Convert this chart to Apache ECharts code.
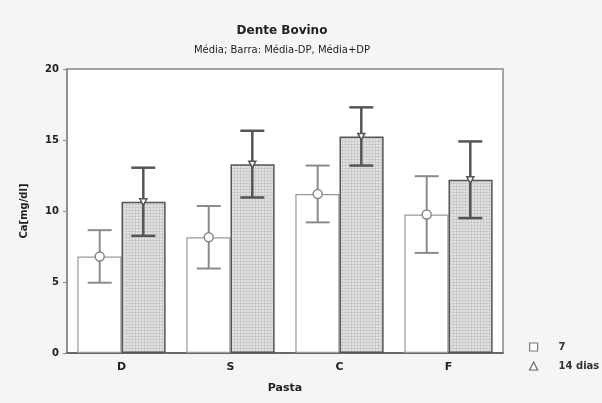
<!DOCTYPE html>
<html><head><meta charset="utf-8">
<script src="https://cdn.jsdelivr.net/npm/echarts@6/dist/echarts.min.js"></script>
<style>html,body{margin:0;padding:0;background:#f5f5f5}#c{width:602px;height:403px}</style>
</head><body><div id="c"></div>
<script>
const categories = ['D', 'S', 'C', 'F'];
const mean7 = [6.8, 8.15, 11.2, 9.75];
const sd7 = [1.85, 2.2, 2.0, 2.7];
const mean14 = [10.65, 13.3, 15.25, 12.2];
const sd14 = [2.4, 2.35, 2.05, 2.7];
const yTicks = [0, 5, 10, 15, 20];

function makePattern() {
  const c = document.createElement('canvas');
  c.width = 3; c.height = 3;
  const g = c.getContext('2d');
  g.fillStyle = '#e2e2e2'; g.fillRect(0, 0, 3, 3);
  g.fillStyle = '#cacaca'; g.fillRect(0, 0, 3, 1); g.fillRect(0, 0, 1, 3);
  return c;
}

function errRender(seriesIdx, color, width, marker) {
  return function (params, api) {
    const i = api.value(0);
    const m = api.value(1), s = api.value(2);
    const base = api.coord([i, m]);
    const bw = api.size([1, 0])[0];
    const off = (seriesIdx === 0 ? -1 : 1) * bw * 0.2;
    const x = base[0] + off;
    const top = api.coord([i, m + s])[1];
    const bot = api.coord([i, m - s])[1];
    const ym = base[1];
    const cap = 12;
    const st = { stroke: color, lineWidth: width };
    const children = [
      { type: 'line', shape: { x1: x, y1: top, x2: x, y2: bot }, style: st },
      { type: 'line', shape: { x1: x - cap, y1: top, x2: x + cap, y2: top }, style: st },
      { type: 'line', shape: { x1: x - cap, y1: bot, x2: x + cap, y2: bot }, style: st }
    ];
    if (marker === 'circle') {
      children.push({ type: 'circle', shape: { cx: x, cy: ym, r: 4.5 }, style: { fill: '#fff', stroke: '#888', lineWidth: 1.5 } });
    } else {
      children.push({ type: 'polygon', shape: { points: [[x - 3.5, ym - 3], [x + 3.5, ym - 3], [x, ym + 3.5]] }, style: { fill: '#fff', stroke: '#555', lineWidth: 1.5 } });
    }
    return { type: 'group', children: children };
  };
}

const chart = echarts.init(document.getElementById('c'));
const font = 'DejaVu Sans, sans-serif';
chart.setOption({
  backgroundColor: '#f5f5f5',
  animation: false,
  title: [
    { text: 'Dente Bovino', left: 277, top: 20, textAlign: 'center',
      textStyle: { fontSize: 12, fontWeight: 'bold', color: '#222', fontFamily: font } },
    { text: 'Média; Barra: Média-DP, Média+DP', left: 277, top: 40, textAlign: 'center',
      textStyle: { fontSize: 10, fontWeight: 'normal', color: '#222', fontFamily: font } }
  ],
  legend: {
    orient: 'vertical', left: 524, top: 337, itemGap: 9, itemWidth: 8, itemHeight: 8,
    textStyle: { fontSize: 10, fontWeight: 'bold', color: '#333', fontFamily: font, padding: [0, 0, 0, 16] },
    data: [
      { name: '7', icon: 'rect', itemStyle: { color: '#fff', borderColor: '#777', borderWidth: 1.2 } },
      { name: '14 dias', icon: 'triangle', itemStyle: { color: '#fff', borderColor: '#666', borderWidth: 1.2 } }
    ]
  },
  grid: { left: 67, right: 99, top: 69, bottom: 50, show: true, backgroundColor: '#fff', borderColor: '#888', borderWidth: 1.5 },
  xAxis: {
    type: 'category', data: categories,
    name: 'Pasta', nameLocation: 'middle', nameGap: 30,
    nameTextStyle: { fontSize: 11, fontWeight: 'bold', color: '#222', fontFamily: font },
    axisLine: { lineStyle: { color: '#555', width: 1.5 } },
    axisTick: { show: false },
    axisLabel: { fontSize: 11, fontWeight: 'bold', color: '#222', margin: 9, fontFamily: font }
  },
  yAxis: {
    type: 'value', min: 0, max: 20, interval: 5,
    name: 'Ca[mg/dl]', nameLocation: 'middle', nameGap: 38,
    nameTextStyle: { fontSize: 10, fontWeight: 'bold', color: '#222', fontFamily: font },
    axisLine: { show: true, lineStyle: { color: '#888', width: 1.5 } },
    axisTick: { show: true, length: 4, lineStyle: { color: '#888' } },
    splitLine: { show: false },
    axisLabel: { fontSize: 10, fontWeight: 'bold', color: '#222', margin: 8, fontFamily: font,
      formatter: v => yTicks.includes(v) ? String(v) : '' }
  },
  series: [
    { name: '7', type: 'bar', data: mean7, barGap: '0%', barCategoryGap: '19%',
      itemStyle: { color: '#fff', borderColor: '#999', borderWidth: 1.2 } },
    { name: '14 dias', type: 'bar', data: mean14,
      itemStyle: { color: { image: makePattern(), repeat: 'repeat' }, borderColor: '#555', borderWidth: 1.5 } },
    { type: 'custom', name: 'e7', z: 10, renderItem: errRender(0, '#8a8a8a', 2, 'circle'),
      data: categories.map((c, i) => [i, mean7[i], sd7[i]]) },
    { type: 'custom', name: 'e14', z: 10, renderItem: errRender(1, '#555', 2.5, 'tri'),
      data: categories.map((c, i) => [i, mean14[i], sd14[i]]) }
  ]
});
</script></body></html>
